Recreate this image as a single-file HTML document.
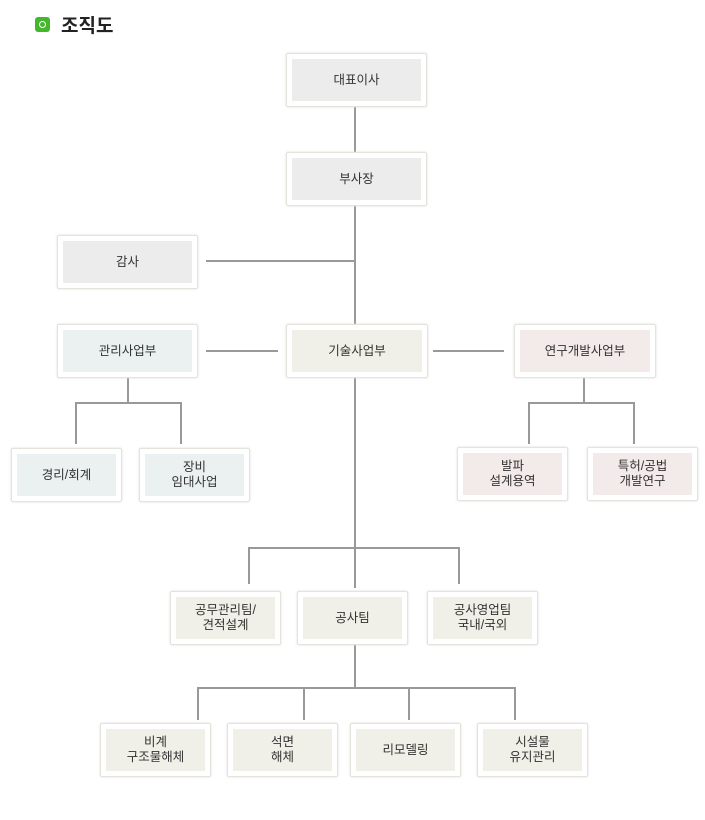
<!DOCTYPE html>
<html><head><meta charset="utf-8"><style>
body{margin:0;width:705px;height:820px;background:#fff;position:relative;overflow:hidden;font-family:"Liberation Sans","Noto Sans CJK KR","NanumGothic",sans-serif;}
.b{position:absolute;box-sizing:border-box;border:1px solid #e4e4dc;background:#fff;box-shadow:0 0 2px #ddd;border-radius:2px;padding:5px;}
.b div{width:100%;height:100%;display:flex;align-items:center;justify-content:center;text-align:center;font-size:12.5px;line-height:15px;color:#333;}
.g div{background:#ececec}.m div{background:#ebf1f1}.t div{background:#f0f0e8}.r div{background:#f3eaea}
.l{position:absolute;background:#999;}
</style></head><body>
<div style="position:absolute;left:35px;top:17px;width:15px;height:15px;background:#44b82c;border-radius:3px"></div>
<div style="position:absolute;left:39px;top:21px;width:5px;height:5px;border:1.5px solid #fff;border-radius:50%"></div>
<div style="position:absolute;left:61px;top:11px;font-size:19px;font-weight:bold;color:#222">조직도</div>

<div class="l" style="left:354px;top:107px;width:2px;height:45px"></div>
<div class="l" style="left:354px;top:206px;width:2px;height:118px"></div>
<div class="l" style="left:206px;top:260px;width:149px;height:2px"></div>
<div class="l" style="left:206px;top:350px;width:72px;height:2px"></div>
<div class="l" style="left:433px;top:350px;width:71px;height:2px"></div>
<div class="l" style="left:127px;top:378px;width:2px;height:25px"></div>
<div class="l" style="left:75px;top:402px;width:107px;height:2px"></div>
<div class="l" style="left:75px;top:402px;width:2px;height:42px"></div>
<div class="l" style="left:180px;top:402px;width:2px;height:42px"></div>
<div class="l" style="left:583px;top:378px;width:2px;height:25px"></div>
<div class="l" style="left:528px;top:402px;width:107px;height:2px"></div>
<div class="l" style="left:528px;top:402px;width:2px;height:42px"></div>
<div class="l" style="left:633px;top:402px;width:2px;height:42px"></div>
<div class="l" style="left:354px;top:378px;width:2px;height:210px"></div>
<div class="l" style="left:248px;top:547px;width:212px;height:2px"></div>
<div class="l" style="left:248px;top:547px;width:2px;height:37px"></div>
<div class="l" style="left:458px;top:547px;width:2px;height:37px"></div>
<div class="l" style="left:354px;top:645px;width:2px;height:43px"></div>
<div class="l" style="left:197px;top:687px;width:319px;height:2px"></div>
<div class="l" style="left:197px;top:687px;width:2px;height:33px"></div>
<div class="l" style="left:303px;top:687px;width:2px;height:33px"></div>
<div class="l" style="left:408px;top:687px;width:2px;height:33px"></div>
<div class="l" style="left:514px;top:687px;width:2px;height:33px"></div>

<div class="b g" style="left:286px;top:53px;width:141px;height:54px"><div>대표이사</div></div>
<div class="b g" style="left:286px;top:152px;width:141px;height:54px"><div>부사장</div></div>
<div class="b g" style="left:57px;top:235px;width:141px;height:54px"><div>감사</div></div>
<div class="b m" style="left:57px;top:324px;width:141px;height:54px"><div>관리사업부</div></div>
<div class="b t" style="left:286px;top:324px;width:142px;height:54px"><div>기술사업부</div></div>
<div class="b r" style="left:514px;top:324px;width:142px;height:54px"><div>연구개발사업부</div></div>
<div class="b m" style="left:11px;top:448px;width:111px;height:54px"><div>경리/회계</div></div>
<div class="b m" style="left:139px;top:448px;width:111px;height:54px"><div>장비<br>임대사업</div></div>
<div class="b r" style="left:457px;top:447px;width:111px;height:54px"><div>발파<br>설계용역</div></div>
<div class="b r" style="left:587px;top:447px;width:111px;height:54px"><div>특허/공법<br>개발연구</div></div>
<div class="b t" style="left:170px;top:591px;width:111px;height:54px"><div>공무관리팀/<br>견적설계</div></div>
<div class="b t" style="left:297px;top:591px;width:111px;height:54px"><div>공사팀</div></div>
<div class="b t" style="left:427px;top:591px;width:111px;height:54px"><div>공사영업팀<br>국내/국외</div></div>
<div class="b t" style="left:100px;top:723px;width:111px;height:54px"><div>비계<br>구조물해체</div></div>
<div class="b t" style="left:227px;top:723px;width:111px;height:54px"><div>석면<br>해체</div></div>
<div class="b t" style="left:350px;top:723px;width:111px;height:54px"><div>리모델링</div></div>
<div class="b t" style="left:477px;top:723px;width:111px;height:54px"><div>시설물<br>유지관리</div></div>
</body></html>
